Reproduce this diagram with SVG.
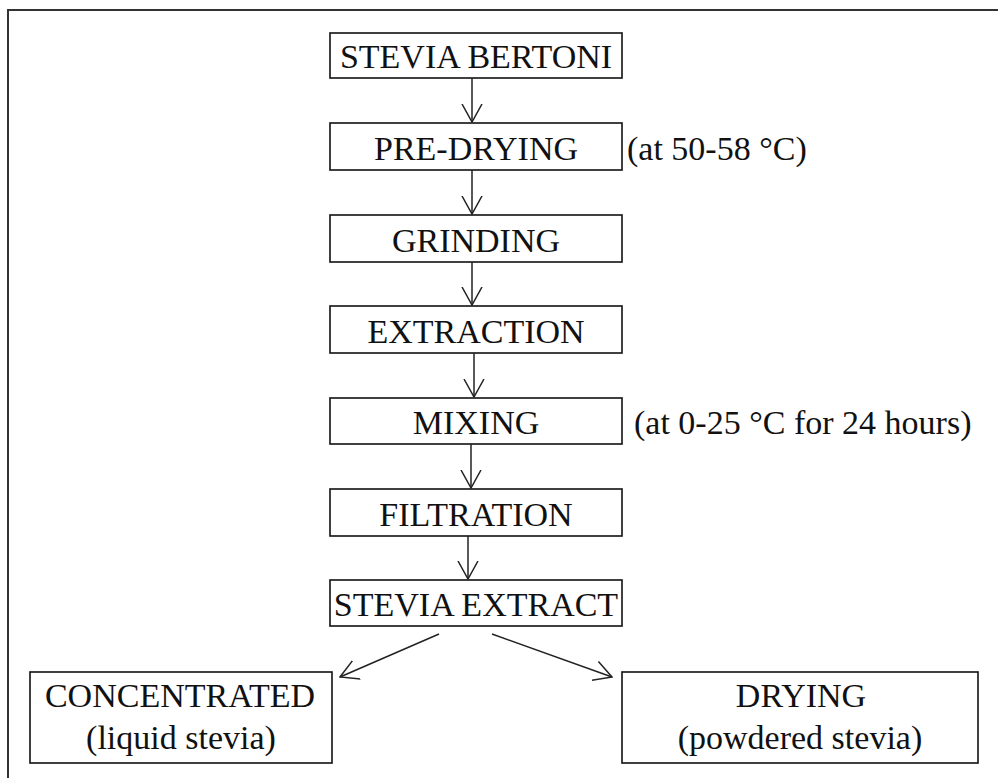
<svg xmlns="http://www.w3.org/2000/svg" width="998" height="778" viewBox="0 0 998 778">
<style>
.box{fill:#fff;stroke:#111;stroke-width:1.6}
.t{font-family:"Liberation Serif","Times New Roman",serif;font-size:34px;fill:#111;text-anchor:middle}
.n{font-family:"Liberation Serif","Times New Roman",serif;font-size:34px;fill:#111}
.c{stroke:#222;stroke-width:1.5;fill:none}
</style>
<defs>
<marker id="ah" markerUnits="userSpaceOnUse" viewBox="0 0 19 22" refX="18" refY="11" markerWidth="19" markerHeight="22" orient="auto">
<path d="M0,1 L18,11 L0,21" fill="none" stroke="#222" stroke-width="1.5"/>
</marker>
</defs>
<rect width="998" height="778" fill="#fff"/>
<path d="M8,778 V10 H998" fill="none" stroke="#333" stroke-width="2"/>
<g id="n1"><rect class="box" x="330" y="33" width="292" height="45"/><text class="t" x="476" y="68">STEVIA BERTONI</text></g>
<g id="n2"><rect class="box" x="330" y="123" width="292" height="47"/><text class="t" x="476" y="160">PRE-DRYING</text><text class="n" x="627" y="160">(at 50-58 °C)</text></g>
<g id="n3"><rect class="box" x="330" y="215" width="292" height="47"/><text class="t" x="476" y="252">GRINDING</text></g>
<g id="n4"><rect class="box" x="330" y="306" width="292" height="47"/><text class="t" x="476" y="343">EXTRACTION</text></g>
<g id="n5"><rect class="box" x="330" y="398" width="292" height="46"/><text class="t" x="476" y="434">MIXING</text><text class="n" x="634" y="434">(at 0-25 °C for 24 hours)</text></g>
<g id="n6"><rect class="box" x="330" y="489" width="292" height="47"/><text class="t" x="476" y="526">FILTRATION</text></g>
<g id="n7"><rect class="box" x="330" y="580" width="292" height="46"/><text class="t" x="476" y="616">STEVIA EXTRACT</text></g>
<g id="n8"><rect class="box" x="30" y="672" width="302" height="91"/><text class="t" x="180" y="707">CONCENTRATED</text><text class="t" x="181" y="749">(liquid stevia)</text></g>
<g id="n9"><rect class="box" x="622" y="672" width="356" height="91"/><text class="t" x="801" y="707">DRYING</text><text class="t" x="800" y="749">(powdered stevia)</text></g>
<g id="connectors">
<line class="c" x1="472" y1="78" x2="472" y2="122" marker-end="url(#ah)"/>
<line class="c" x1="472" y1="170" x2="472" y2="214" marker-end="url(#ah)"/>
<line class="c" x1="472" y1="262" x2="472" y2="305" marker-end="url(#ah)"/>
<line class="c" x1="474" y1="353" x2="474" y2="397" marker-end="url(#ah)"/>
<line class="c" x1="471" y1="444" x2="471" y2="488" marker-end="url(#ah)"/>
<line class="c" x1="468" y1="536" x2="468" y2="579" marker-end="url(#ah)"/>
<line class="c" x1="439" y1="634" x2="340" y2="677" marker-end="url(#ah)"/>
<line class="c" x1="492" y1="634" x2="612" y2="677" marker-end="url(#ah)"/>
</g>
</svg>
